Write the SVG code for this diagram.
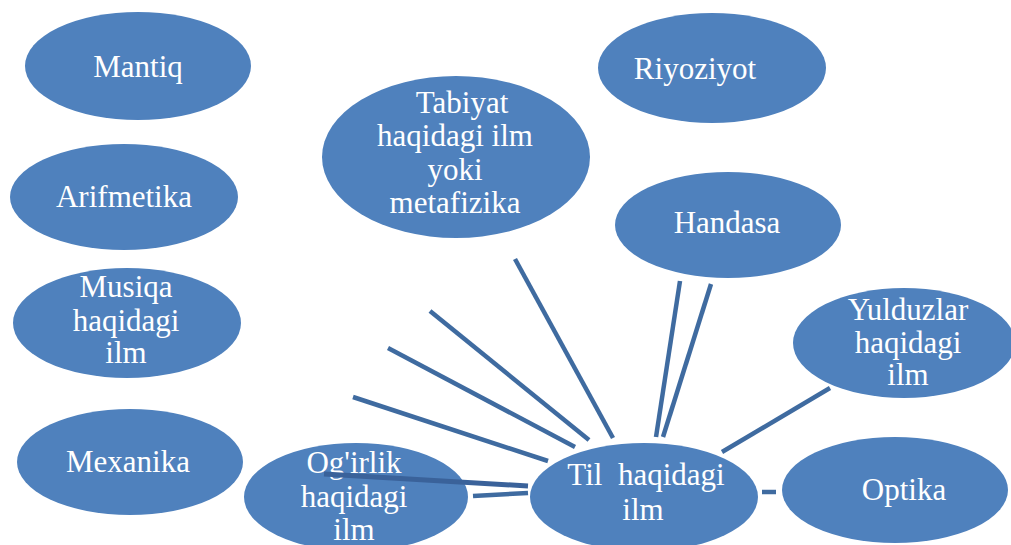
<svg xmlns="http://www.w3.org/2000/svg" width="1011" height="545" viewBox="0 0 1011 545">
<style>
.n{fill:#4F81BD;}
.t{fill:#FFFFFF;font-family:'Liberation Serif','Times New Roman',serif;font-size:31px;text-anchor:middle;white-space:pre;}
.c{stroke:#3F6BA0;stroke-width:4.5;stroke-linecap:butt;fill:none;}
</style>
<rect width="1011" height="545" fill="#FFFFFF"/>
<g id="n-mantiq"><ellipse class="n" cx="138" cy="66" rx="113" ry="54"/><text class="t" x="138" y="77">Mantiq</text></g>
<g id="n-riyoziyot"><ellipse class="n" cx="712" cy="68" rx="114" ry="55"/><text class="t" x="695" y="79">Riyoziyot</text></g>
<g id="n-tabiyat"><ellipse class="n" cx="456" cy="157" rx="134" ry="81"/><text class="t"><tspan x="462" y="113">Tabiyat</tspan><tspan x="455" y="146">haqidagi ilm</tspan><tspan x="455" y="180">yoki</tspan><tspan x="455" y="213">metafizika</tspan></text></g>
<g id="n-arifmetika"><ellipse class="n" cx="124" cy="197" rx="114" ry="53"/><text class="t" x="124" y="207">Arifmetika</text></g>
<g id="n-handasa"><ellipse class="n" cx="728" cy="225" rx="113" ry="53"/><text class="t" x="727" y="233">Handasa</text></g>
<g id="n-musiqa"><ellipse class="n" cx="127" cy="323" rx="114" ry="55"/><text class="t"><tspan x="126" y="297">Musiqa</tspan><tspan x="126" y="331">haqidagi</tspan><tspan x="126" y="363">ilm</tspan></text></g>
<g id="n-yulduzlar"><ellipse class="n" cx="904" cy="343" rx="111" ry="55"/><text class="t"><tspan x="908" y="320">Yulduzlar</tspan><tspan x="908" y="353">haqidagi</tspan><tspan x="908" y="385">ilm</tspan></text></g>
<g id="n-mexanika"><ellipse class="n" cx="130" cy="462" rx="113" ry="53"/><text class="t" x="128" y="472">Mexanika</text></g>
<g id="n-optika"><ellipse class="n" cx="895" cy="490" rx="113" ry="53"/><text class="t" x="904" y="500">Optika</text></g>
<g id="n-ogirlik"><ellipse class="n" cx="356" cy="497" rx="112" ry="54"/><text class="t"><tspan x="354" y="473">Og'irlik</tspan><tspan x="354" y="507">haqidagi</tspan><tspan x="354" y="540">ilm</tspan></text></g>
<g id="connectors">
<line class="c" x1="430" y1="311" x2="589" y2="440"/>
<line class="c" x1="388" y1="348" x2="575" y2="447"/>
<line class="c" x1="353" y1="397" x2="548" y2="461"/>
<line class="c" x1="324" y1="474" x2="528" y2="486" style="stroke:#3A629A;stroke-width:5"/>
<line class="c" x1="473" y1="496" x2="528" y2="493"/>
<line class="c" x1="515" y1="259" x2="613" y2="438"/>
<line class="c" x1="680" y1="281" x2="656" y2="437"/>
<line class="c" x1="711" y1="284" x2="663" y2="437"/>
<line class="c" x1="830" y1="388" x2="722" y2="452"/>
<line class="c" x1="762" y1="492" x2="776" y2="492"/>
</g>
<g id="n-til"><ellipse class="n" cx="644" cy="497" rx="114" ry="54"/><text class="t"><tspan x="646" y="485">Til  haqidagi</tspan><tspan x="643" y="520">ilm</tspan></text></g>
</svg>
